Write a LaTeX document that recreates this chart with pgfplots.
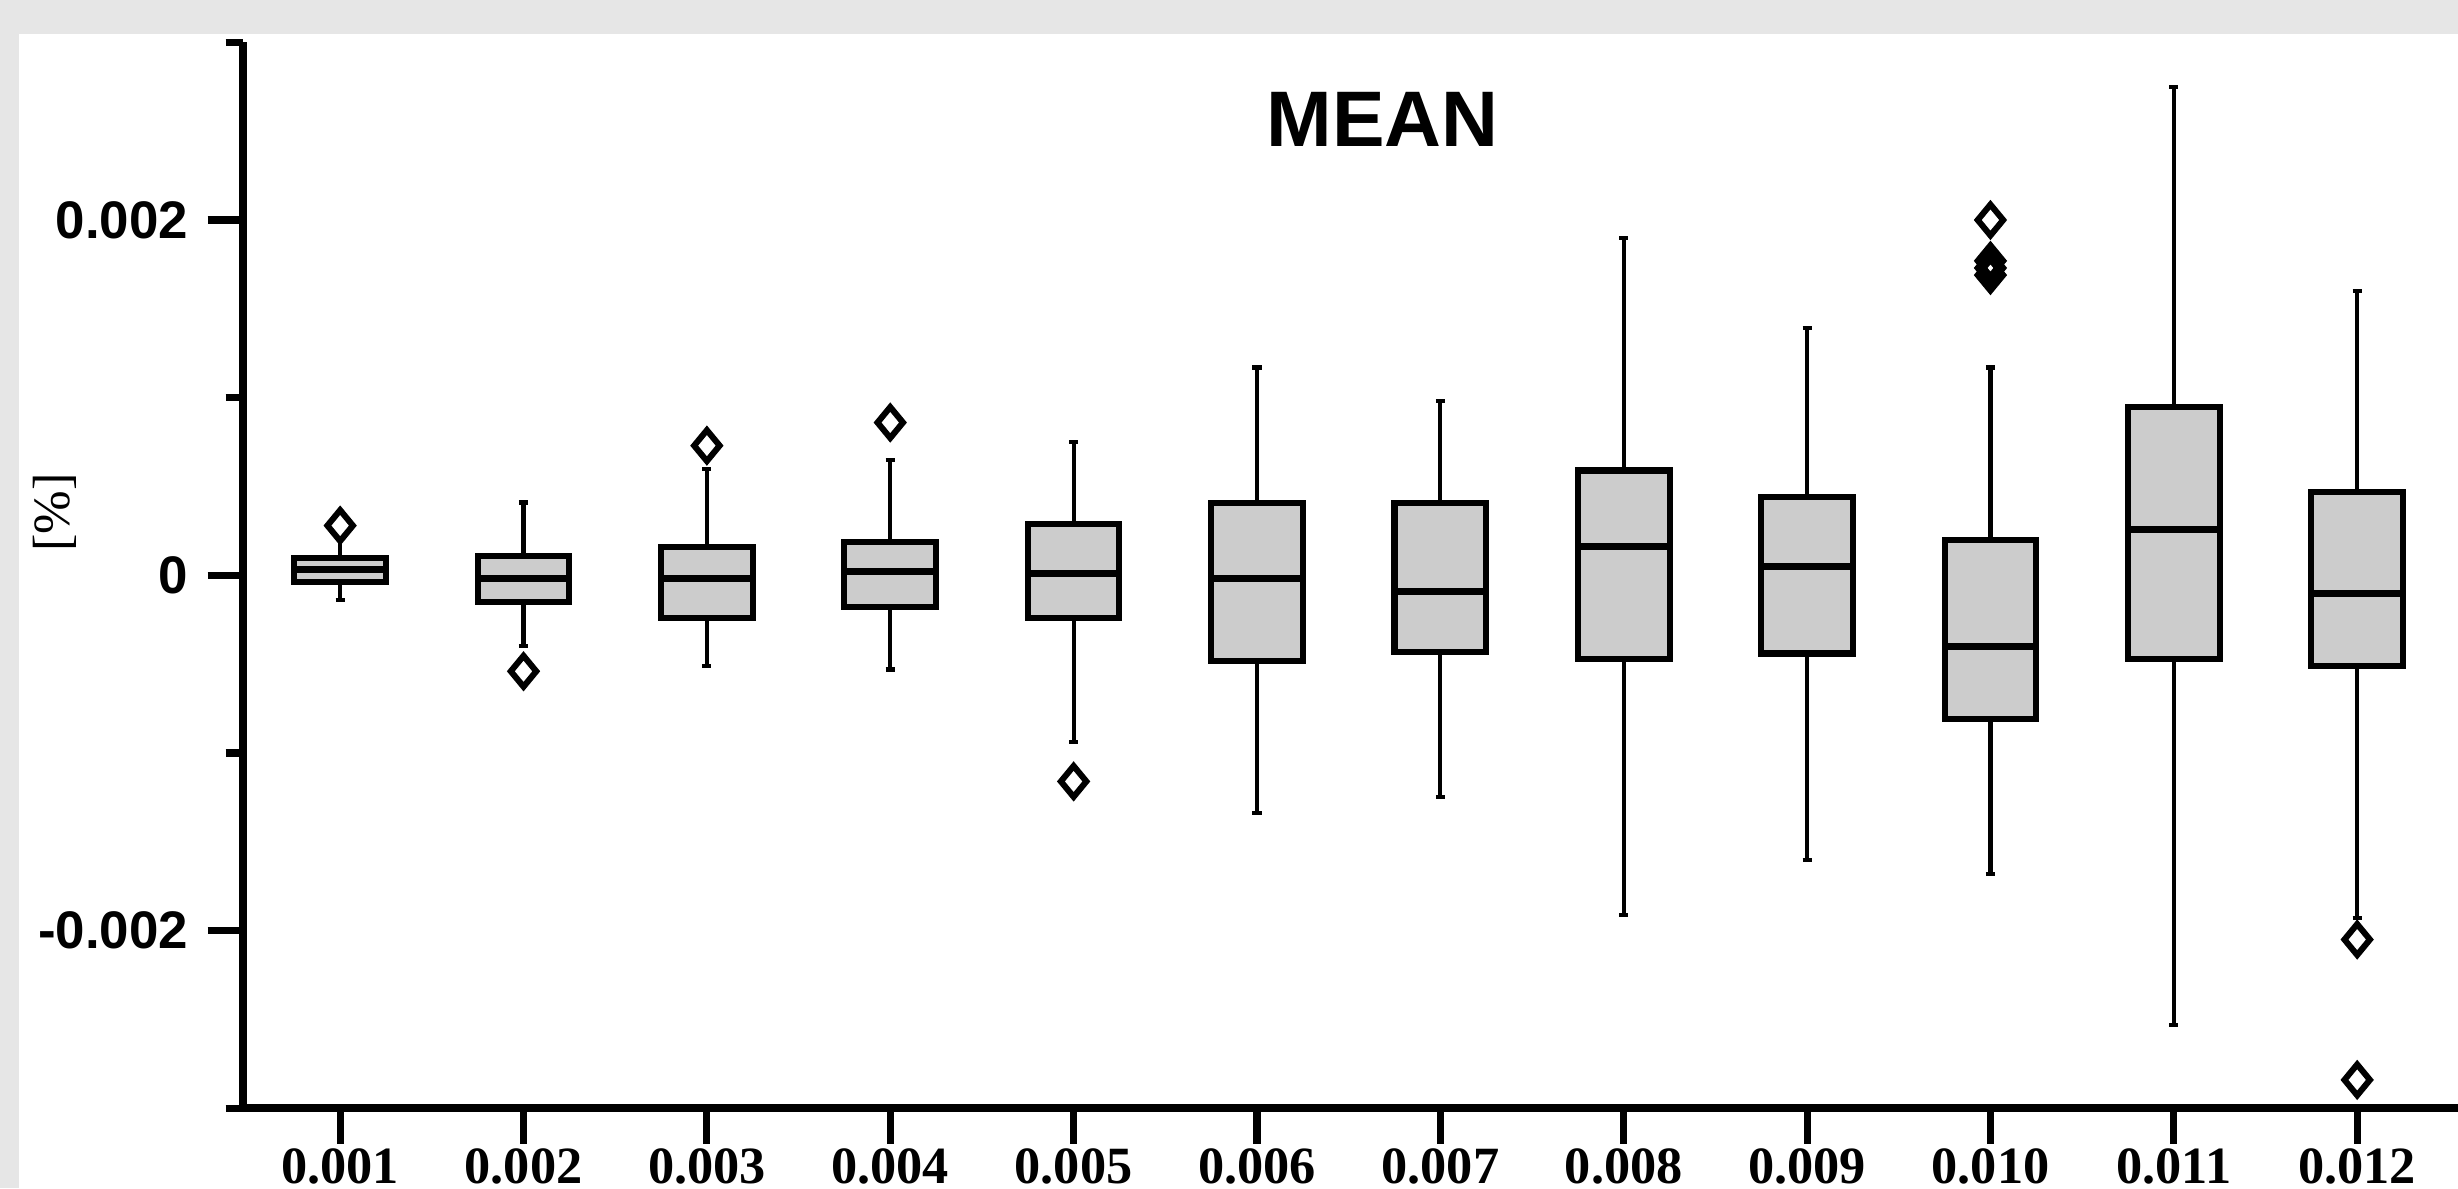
\documentclass[border=0pt]{standalone}
\usepackage{pgfplots}
\pgfplotsset{compat=1.18}
\usepgfplotslibrary{statistics}
\usepackage{fontspec}
\setmainfont{Liberation Serif}
\setsansfont{Liberation Sans}
\definecolor{bggray}{HTML}{E6E6E6}
\definecolor{boxgray}{HTML}{CCCCCC}
% values are given in units of 0.001 %
\begin{document}
\begin{tikzpicture}
\fill[bggray] (0,0) rectangle (15.68cm,7.58cm);
\fill[white] (0.12cm,0) rectangle (15.68cm,7.36cm);
\begin{axis}[
  at={(1.55cm,0.51cm)}, anchor=south west,
  scale only axis, width=14.13cm, height=6.80cm,
  xmin=0.47, xmax=12.55, ymin=-3, ymax=3,
  axis lines=left, axis line style={-, line width=1.5pt},
  clip=false,
  tick align=outside,
  major tick length=2.25mm, minor tick length=1.1mm,
  tick style={line width=1.3pt, black},
  xtick={1,...,12},
  xticklabels={0.001,0.002,0.003,0.004,0.005,0.006,0.007,0.008,0.009,0.010,0.011,0.012},
  ytick={-2,0,2},
  yticklabels={-0.002,0,0.002},
  minor ytick={-3,-1,1,3},
  xticklabel style={font=\rmfamily\bfseries\fontsize{9.5}{11}\selectfont, yshift=0.9mm},
  yticklabel style={font=\sffamily\bfseries\fontsize{9.6}{11}\selectfont},
  boxplot/draw direction=y,
  boxplot/box extend=0.5,
  boxplot/whisker extend=0.05,
  boxplot/every box/.style={draw=black, fill=boxgray, line width=1.1pt},
  boxplot/every whisker/.style={draw=black, line width=0.75pt},
  boxplot/every median/.style={draw=black, line width=1.3pt},
  mark=diamond, mark size=2.8pt,
  mark options={draw=black, fill=white, line width=1.1pt, solid, xscale=1.1},
]
\addplot[boxplot prepared={draw position=1, lower whisker=-0.14, lower quartile=-0.035, median=0.035, upper quartile=0.10, upper whisker=0.21}, draw=black, mark=diamond] coordinates {(0,0.28)};
\addplot[boxplot prepared={draw position=2, lower whisker=-0.40, lower quartile=-0.15, median=-0.02, upper quartile=0.11, upper whisker=0.41}, draw=black, mark=diamond] coordinates {(0,-0.54)};
\addplot[boxplot prepared={draw position=3, lower whisker=-0.51, lower quartile=-0.24, median=-0.02, upper quartile=0.157, upper whisker=0.60}, draw=black, mark=diamond] coordinates {(0,0.73)};
\addplot[boxplot prepared={draw position=4, lower whisker=-0.53, lower quartile=-0.18, median=0.02, upper quartile=0.19, upper whisker=0.65}, draw=black, mark=diamond] coordinates {(0,0.86)};
\addplot[boxplot prepared={draw position=5, lower whisker=-0.94, lower quartile=-0.24, median=0.01, upper quartile=0.29, upper whisker=0.75}, draw=black, mark=diamond] coordinates {(0,-1.16)};
\addplot[boxplot prepared={draw position=6, lower whisker=-1.34, lower quartile=-0.48, median=-0.02, upper quartile=0.405, upper whisker=1.17}, draw=black, mark=diamond] coordinates {};
\addplot[boxplot prepared={draw position=7, lower whisker=-1.25, lower quartile=-0.43, median=-0.09, upper quartile=0.405, upper whisker=0.98}, draw=black, mark=diamond] coordinates {};
\addplot[boxplot prepared={draw position=8, lower whisker=-1.91, lower quartile=-0.47, median=0.16, upper quartile=0.59, upper whisker=1.90}, draw=black, mark=diamond] coordinates {};
\addplot[boxplot prepared={draw position=9, lower whisker=-1.60, lower quartile=-0.44, median=0.05, upper quartile=0.44, upper whisker=1.39}, draw=black, mark=diamond] coordinates {};
\addplot[boxplot prepared={draw position=10, lower whisker=-1.68, lower quartile=-0.81, median=-0.40, upper quartile=0.20, upper whisker=1.17}, draw=black, mark=diamond] coordinates {(0,2.00) (0,1.77) (0,1.73) (0,1.69)};
\addplot[boxplot prepared={draw position=11, lower whisker=-2.53, lower quartile=-0.47, median=0.26, upper quartile=0.95, upper whisker=2.75}, draw=black, mark=diamond] coordinates {};
\addplot[boxplot prepared={draw position=12, lower whisker=-1.93, lower quartile=-0.51, median=-0.10, upper quartile=0.47, upper whisker=1.60}, draw=black, mark=diamond] coordinates {(0,-2.05) (0,-2.84)};
\end{axis}
\node[font=\sffamily\bfseries\fontsize{14.3}{16}\selectfont] at (8.82cm,6.82cm) {MEAN};
\node[rotate=90, font=\rmfamily\fontsize{9.5}{11}\selectfont] at (0.35cm,4.31cm) {[\%]};
\pgfresetboundingbox
\useasboundingbox (0,0) rectangle (15.68cm,7.58cm);
\end{tikzpicture}
\end{document}
